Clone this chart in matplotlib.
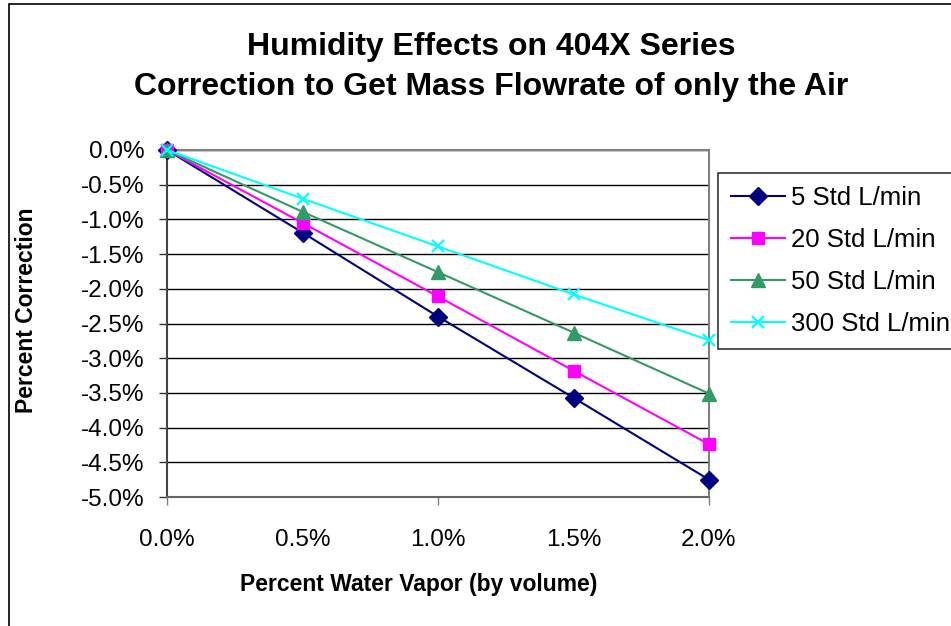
import numpy as np
import matplotlib
matplotlib.use("Agg")
import matplotlib.pyplot as plt
from matplotlib.patches import Rectangle
from matplotlib.ticker import FuncFormatter, FixedLocator

plt.rcParams['font.family'] = ['Liberation Sans', 'DejaVu Sans']

# Data (percent)
water_vapor = [0.0, 0.5, 1.0, 1.5, 2.0]
corr_5 = [0.0, -1.19, -2.40, -3.57, -4.75]
corr_20 = [0.0, -1.05, -2.11, -3.18, -4.24]
corr_50 = [0.0, -0.89, -1.76, -2.63, -3.51]
corr_300 = [0.0, -0.70, -1.39, -2.08, -2.74]
series_labels = ['5 Std L/min', '20 Std L/min', '50 Std L/min', '300 Std L/min']
y_ticks = [0.0, -0.5, -1.0, -1.5, -2.0, -2.5, -3.0, -3.5, -4.0, -4.5, -5.0]
x_ticks = [0.0, 0.5, 1.0, 1.5, 2.0]

W, H = 951, 626
fig = plt.figure(figsize=(W / 100, H / 100), dpi=100)
ax = fig.add_axes([167 / W, 1 - 497 / H, (709 - 167) / W, (497 - 150) / H])

# outer chart border
fig.patches.append(Rectangle((9 / W, -0.1), 1.2, 1.1 - 3.5 / H, transform=fig.transFigure,
                             fill=False, edgecolor='black', linewidth=1.2))

styles = [
    dict(color='#000080', marker='D', markersize=9),
    dict(color='#FF00FF', marker='s', markersize=8),
    dict(color='#339966', marker='^', markersize=10),
    dict(color='#00FFFF', marker='x', markersize=9, markeredgewidth=1.6),
]
for vals, lab, st in zip([corr_5, corr_20, corr_50, corr_300], series_labels, styles):
    ax.plot(water_vapor, vals, label=lab, linewidth=1.5, clip_on=False, zorder=3, **st)

ax.set_xlim(0, 2.0)
ax.set_ylim(-5.0, 0.0)

pct = FuncFormatter(lambda v, p: f"{v:.1f}%")
ax.set_yticks(y_ticks)
ax.yaxis.set_major_formatter(pct)
ax.set_xticks(x_ticks)
ax.xaxis.set_major_formatter(pct)
ax.xaxis.set_minor_locator(FixedLocator([0.0, 1.0, 2.0]))
ax.xaxis.remove_overlapping_locs = False

ax.tick_params(axis='y', direction='out', length=6, width=1, color='#333333',
               labelsize=17.5, pad=10)
ax.tick_params(axis='x', which='major', length=0, labelsize=17.5, pad=23)
ax.tick_params(axis='x', which='minor', direction='out', length=6, width=1, color='#808080')

ax.grid(axis='y', color='black', linewidth=1.0)
ax.set_axisbelow(True)
for side in ['top', 'right']:
    ax.spines[side].set_color('#808080')
    ax.spines[side].set_linewidth(1.5)
ax.spines['left'].set_color('#444444')
ax.spines['left'].set_linewidth(1.5)
ax.spines['bottom'].set_color('#666666')
ax.spines['bottom'].set_linewidth(1.5)

fig.text(491 / W, 1 - 67 / H, 'Humidity Effects on 404X Series\nCorrection to Get Mass Flowrate of only the Air',
         ha='center', va='center', fontsize=23, fontweight='bold', linespacing=1.42)
fig.text(419 / W, 1 - 584 / H, 'Percent Water Vapor (by volume)', ha='center', va='center',
         fontsize=16.5, fontweight='bold')
fig.text(27 / W, 1 - 310 / H, 'Percent Correction', ha='center', va='center', rotation=90,
         fontsize=16.5, fontweight='bold')

leg = ax.legend(loc='upper left', bbox_to_anchor=(718 / W, 1 - 173 / H), bbox_transform=fig.transFigure,
                borderaxespad=0, fontsize=18.5, frameon=True, fancybox=False, handlelength=2.1,
                handletextpad=0.25, borderpad=0.5, labelspacing=0.7)
leg.get_frame().set_edgecolor('black')
leg.get_frame().set_linewidth(1.2)

fig.savefig('out.png', dpi=100)
